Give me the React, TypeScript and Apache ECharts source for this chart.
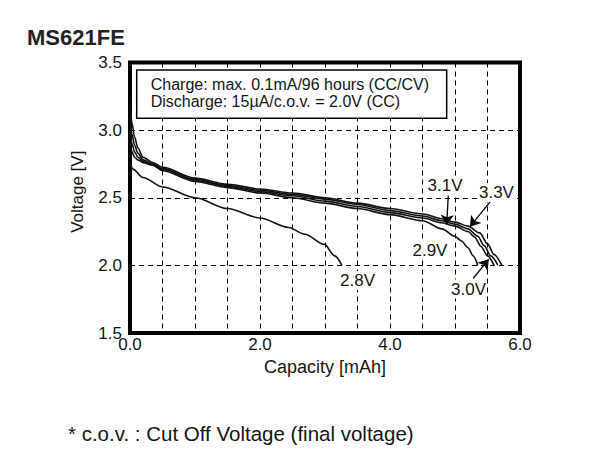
import React, { useEffect, useRef } from "react";
import * as echarts from "echarts";

// ---- data (capacity in mAh, voltage in V) ----
const cap33 = [0, 0.03, 0.07, 0.12, 0.2, 0.35, 0.5, 1.0, 1.5, 2.0, 2.5, 3.0, 3.5, 4.0, 4.5, 4.8, 5.0, 5.2, 5.38, 5.5, 5.6, 5.72];
const v33 = [3.2, 3.05, 2.95, 2.87, 2.8, 2.76, 2.725, 2.645, 2.6, 2.565, 2.535, 2.5, 2.46, 2.42, 2.38, 2.345, 2.32, 2.29, 2.24, 2.16, 2.08, 2.0];

const cap31 = [0, 0.03, 0.07, 0.12, 0.2, 0.35, 0.5, 1.0, 1.5, 2.0, 2.5, 3.0, 3.5, 4.0, 4.5, 4.8, 5.0, 5.2, 5.35, 5.45, 5.55, 5.66];
const v31 = [3.1, 2.97, 2.89, 2.83, 2.78, 2.75, 2.715, 2.635, 2.59, 2.555, 2.525, 2.49, 2.45, 2.405, 2.365, 2.33, 2.305, 2.27, 2.215, 2.145, 2.07, 2.0];

const cap30 = [0, 0.03, 0.07, 0.12, 0.2, 0.35, 0.5, 1.0, 1.5, 2.0, 2.5, 3.0, 3.5, 4.0, 4.5, 4.8, 5.0, 5.2, 5.3, 5.4, 5.5, 5.6];
const v30 = [3.0, 2.9, 2.84, 2.8, 2.77, 2.745, 2.71, 2.63, 2.585, 2.545, 2.515, 2.475, 2.435, 2.39, 2.35, 2.315, 2.29, 2.25, 2.21, 2.14, 2.07, 2.0];

const cap29 = [0, 0.03, 0.07, 0.12, 0.2, 0.35, 0.5, 1.0, 1.5, 2.0, 2.5, 3.0, 3.5, 4.0, 4.5, 4.8, 5.0, 5.1, 5.2, 5.28, 5.35];
const v29 = [2.9, 2.84, 2.8, 2.78, 2.76, 2.74, 2.7, 2.62, 2.575, 2.535, 2.5, 2.46, 2.42, 2.375, 2.33, 2.27, 2.215, 2.18, 2.13, 2.07, 2.0];

const cap28 = [0, 0.05, 0.2, 0.5, 1.0, 1.5, 2.0, 2.44, 2.69, 2.99, 3.15, 3.26];
const v28 = [2.76, 2.71, 2.65, 2.58, 2.5, 2.42, 2.35, 2.28, 2.23, 2.155, 2.07, 2.0];

// curve labels: [capacity, voltage, text]
const curveLabels: [number, number, string][] = [
  [4.846, 2.587, "3.1V"],
  [5.638, 2.539, "3.3V"],
  [4.615, 2.11, "2.9V"],
  [5.208, 1.825, "3.0V"],
  [3.5, 1.888, "2.8V"],
];

// arrows: [fromCap, fromV, toCap, toV]
const arrows: [number, number, number, number][] = [
  [4.897, 2.52, 4.872, 2.3],
  [5.54, 2.47, 5.23, 2.286],
  [5.28, 1.905, 5.52, 2.045],
];

const titleText = "MS621FE";
const noteLines = ["Charge: max. 0.1mA/96 hours (CC/CV)", "Discharge: 15\u00B5A/c.o.v. = 2.0V (CC)"];
const footnote = "* c.o.v. : Cut Off Voltage (final voltage)";
const xName = "Capacity [mAh]";
const yName = "Voltage [V]";

const FONT = '"Liberation Sans", Arial, Helvetica, sans-serif';
const INK = "#151515";

const zip = (xs: number[], ys: number[]) => xs.map((x, i) => [x, ys[i]]);

export default function App() {
  const ref = useRef<HTMLDivElement>(null);

  useEffect(() => {
    if (!ref.current) return;
    const chart = echarts.init(ref.current, null, { renderer: "svg" });

    const curves = [
      zip(cap33, v33),
      zip(cap31, v31),
      zip(cap30, v30),
      zip(cap29, v29),
      zip(cap28, v28),
    ];

    const lineSeries = curves.map((d) => ({
      type: "line",
      data: d,
      showSymbol: false,
      smooth: 0.3,
      smoothMonotone: "x",
      lineStyle: { color: "#111", width: 1.6 },
      z: 3,
    }));

    chart.setOption({
      animation: false,
      title: {
        text: titleText,
        left: 27,
        top: 26,
        padding: 0,
        textStyle: { fontSize: 22, fontWeight: "bold", color: "#222", fontFamily: FONT },
      },
      grid: {
        left: 130,
        top: 62.5,
        width: 390,
        height: 270.5,
        show: true,
        borderColor: "#000",
        borderWidth: 4,
        backgroundColor: "transparent",
      },
      xAxis: {
        type: "value",
        min: 0,
        max: 6,
        interval: 0.5,
        axisLine: { show: false },
        axisTick: { show: false },
        splitLine: {
          show: true,
          showMinLine: false,
          showMaxLine: false,
          lineStyle: { color: "#000", type: [5, 4], width: 1 },
        },
        axisLabel: {
          interval: 0,
          margin: 3,
          fontSize: 17,
          color: INK,
          fontFamily: FONT,
          formatter: (v: number) => (Math.abs(v % 2) < 1e-9 ? v.toFixed(1) : ""),
        },
        name: xName,
        nameLocation: "middle",
        nameGap: 24,
        nameTextStyle: { fontSize: 18, color: INK, fontFamily: FONT },
      },
      yAxis: {
        type: "value",
        min: 1.5,
        max: 3.5,
        interval: 0.5,
        axisLine: { show: false },
        axisTick: { show: false },
        splitLine: {
          show: true,
          showMinLine: false,
          showMaxLine: false,
          lineStyle: { color: "#000", type: [5, 4], width: 1 },
        },
        axisLabel: {
          margin: 8,
          fontSize: 17,
          color: INK,
          fontFamily: FONT,
          formatter: (v: number) => v.toFixed(1),
        },
        name: yName,
        nameLocation: "middle",
        nameGap: 44,
        nameRotate: 90,
        nameTextStyle: { fontSize: 17, color: INK, fontFamily: FONT, padding: [0, 0, 0, 12] },
      },
      series: [
        ...lineSeries,
        {
          type: "scatter",
          data: curveLabels,
          symbolSize: 0,
          silent: true,
          z: 5,
          itemStyle: { opacity: 1 },
          label: {
            show: true,
            position: "inside",
            formatter: (p: any) => p.data[2],
            fontSize: 17,
            color: INK,
            opacity: 1,
            fontFamily: FONT,
            backgroundColor: "#fff",
            padding: [1, 1],
          },
          markLine: {
            silent: true,
            symbol: ["none", "arrow"],
            symbolSize: 10,
            label: { show: false },
            lineStyle: { color: "#000", width: 1.3, type: "solid", opacity: 1 },
            data: arrows.map((a) => [{ coord: [a[0], a[1]] }, { coord: [a[2], a[3]] }]),
          },
        },
      ],
      graphic: [
        {
          type: "rect",
          shape: { x: 136.7, y: 70, width: 310, height: 48.3 },
          style: { fill: "#fff", stroke: "#000", lineWidth: 1.5 },
          z: 100,
        },
        {
          type: "text",
          x: 150.7,
          y: 76,
          z: 101,
          style: { text: noteLines[0], fontSize: 16, fontFamily: FONT, fill: INK, verticalAlign: "top", align: "left" },
        },
        {
          type: "text",
          x: 150.7,
          y: 93,
          z: 101,
          style: { text: noteLines[1], fontSize: 16, fontFamily: FONT, fill: INK, verticalAlign: "top", align: "left" },
        },
        {
          type: "text",
          x: 68,
          y: 423,
          z: 101,
          style: { text: footnote, fontSize: 20.5, fontFamily: FONT, fill: INK, verticalAlign: "top", align: "left" },
        },
      ],
    });

    return () => chart.dispose();
  }, []);

  return (
    <div
      ref={ref}
      style={{ position: "fixed", left: 0, top: 0, width: "592px", height: "469px", background: "#fff" }}
    />
  );
}
